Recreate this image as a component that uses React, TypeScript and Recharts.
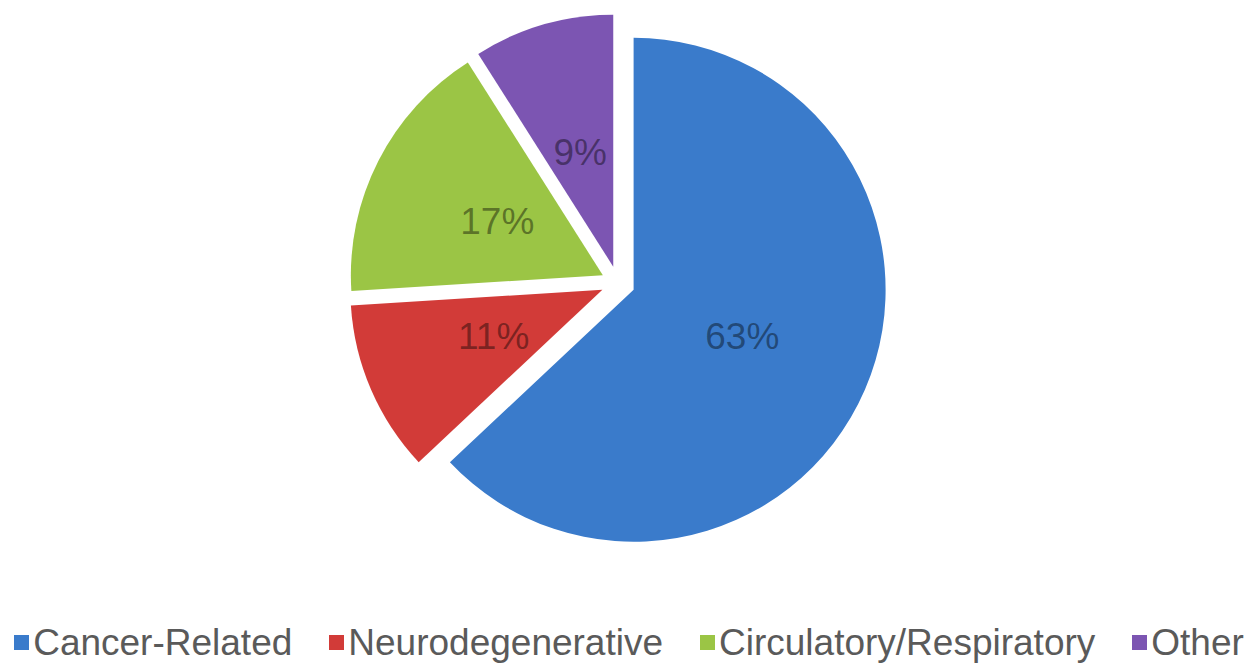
import React from 'react';
import { PieChart, Pie, Cell, Legend, Sector } from 'recharts';

const categories = ['Cancer-Related', 'Neurodegenerative', 'Circulatory/Respiratory', 'Other'];
const shares = [63, 11, 17, 9];
const colors = ['#3a7bcb', '#d23b38', '#9bc545', '#7c55b2'];

const data = categories.map((name, i) => ({ name, value: shares[i] }));

const RAD = Math.PI / 180;
const EXPLODE = 17;

const ExplodedSector = (props: any) => {
  const { cx, cy, midAngle } = props;
  const dx = EXPLODE * Math.cos(-midAngle * RAD);
  const dy = EXPLODE * Math.sin(-midAngle * RAD);
  return <Sector {...props} cx={cx + dx} cy={cy + dy} />;
};

const renderLabel = (props: any) => {
  const { cx, cy, midAngle, outerRadius, percent } = props;
  const r = EXPLODE + outerRadius * 0.47;
  const x = cx + r * Math.cos(-midAngle * RAD);
  const y = cy + r * Math.sin(-midAngle * RAD);
  return (
    <text
      x={x}
      y={y}
      textAnchor="middle"
      dominantBaseline="central"
      fill="#000"
      fillOpacity={0.42}
      fontSize={37}
      fontFamily="'Liberation Sans', Arial, sans-serif"
    >
      {`${Math.round(percent * 100)}%`}
    </text>
  );
};

// keep legend in data order (recharts sorts it by name otherwise)
const renderLegend = (props: any) => {
  const payload = [...(props.payload || [])].sort(
    (a: any, b: any) => categories.indexOf(a.value) - categories.indexOf(b.value)
  );
  return (
    <div style={{ display: 'flex', justifyContent: 'center', gap: 37, fontFamily: "'Liberation Sans', Arial, sans-serif", fontSize: 37, color: '#5a5a5a' }}>
      {payload.map((entry: any, i: number) => (
        <div key={`item-${i}`} style={{ display: 'flex', alignItems: 'center' }}>
          <span style={{ display: 'inline-block', width: 15, height: 15, background: entry.color, marginRight: 4, marginTop: -1 }} />
          <span>{entry.value}</span>
        </div>
      ))}
    </div>
  );
};

export default function App() {
  return (
    <PieChart width={1242} height={655}>
      <Pie
        data={data}
        dataKey="value"
        nameKey="name"
        cx={605}
        cy={270}
        outerRadius={252}
        startAngle={90}
        endAngle={-270}
        stroke="none"
        shape={ExplodedSector}
        label={renderLabel}
        labelLine={false}
        isAnimationActive={false}
      >
        {data.map((_entry, index) => (
          <Cell key={`cell-${index}`} fill={colors[index]} />
        ))}
      </Pie>
      <Legend
        content={renderLegend}
        wrapperStyle={{ position: 'absolute', top: 614, left: 0, width: 1242 }}
      />
    </PieChart>
  );
}
